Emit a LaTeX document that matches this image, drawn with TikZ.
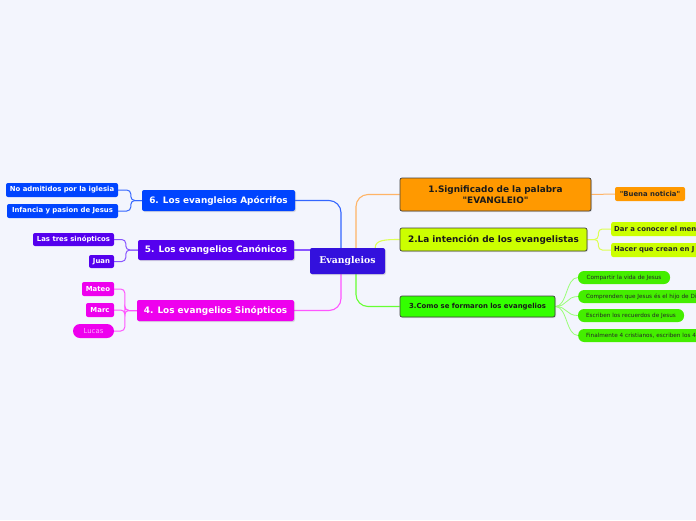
\documentclass[tikz,border=0pt]{standalone}
\usepackage{fontspec}
\usetikzlibrary{shadows}
\newfontfamily\sansf{DejaVu Sans}
\newfontfamily\seriff{DejaVu Serif}
\definecolor{bgc}{HTML}{F3F5FD}
\definecolor{cev}{HTML}{3311DD}
\definecolor{cbl}{HTML}{0044FF}
\definecolor{cvi}{HTML}{5500EE}
\definecolor{cma}{HTML}{EE00EE}
\definecolor{cor}{HTML}{FF9900}
\definecolor{cyg}{HTML}{CCFF00}
\definecolor{cgr}{HTML}{33FF00}
\definecolor{cgc}{HTML}{44EE00}
\definecolor{lbl}{HTML}{3366FF}
\definecolor{lvi}{HTML}{8855FF}
\definecolor{lma}{HTML}{FF55FF}
\definecolor{lor}{HTML}{FFB466}
\definecolor{lyg}{HTML}{DDFF55}
\definecolor{lgr}{HTML}{66FF33}
\definecolor{lgc}{HTML}{99FF77}
\pgfdeclarelayer{bgl}
\pgfdeclarelayer{lines}
\pgfsetlayers{bgl,lines,main}
\tikzset{
  box/.style={rounded corners=2pt, inner sep=0pt, align=center, text=white},
  mainbox/.style={box, font=\sansf\bfseries\fontsize{8.9}{10.5}\selectfont,
     drop shadow={opacity=0.25, shadow xshift=1pt, shadow yshift=-1pt}},
  rbox/.style={mainbox, draw=black!75, line width=0.7pt, text=black!90},
  kid/.style={box, font=\sansf\bfseries\fontsize{6.9}{8}\selectfont},
  pill/.style={box, rounded corners=6pt, font=\sansf\fontsize{5.7}{6.5}\selectfont, text=black!85, fill=cgc},
  conn/.style={line width=1.1pt, rounded corners=12pt},
  brk/.style={line width=1pt, rounded corners=4pt},
}
\begin{document}
\begin{tikzpicture}[x=1pt,y=-1pt]
\begin{pgfonlayer}{bgl}
\fill[bgc] (0,0) rectangle (696,520);
\end{pgfonlayer}
\useasboundingbox (0,0) rectangle (696,520);

% centre
\node[box, fill=cev, minimum width=75pt, minimum height=26pt, font=\seriff\bfseries\fontsize{9.3}{11}\selectfont,
  drop shadow={opacity=0.25, shadow xshift=1pt, shadow yshift=-1pt}] (ev) at (347.5,261) {Evangleios};

% right branches
\node[rbox, fill=cor, minimum width=191pt, minimum height=33pt] (n1) at (495.5,194.5) {1.Significado de la palabra\\"EVANGLEIO"};
\node[kid, fill=cor, text=black!85, minimum width=70pt, minimum height=14pt] (bn) at (650,194) {"Buena noticia"};

\node[rbox, fill=cyg, minimum width=187pt, minimum height=23pt] (n2) at (493.5,239.5) {2.La intención de los evangelistas};
\node[kid, fill=cyg, text=black!85, anchor=west, text width=122pt, align=left, inner xsep=3pt, minimum height=14pt] (c21) at (611,229) {Dar a conocer el men};
\node[kid, fill=cyg, text=black!85, anchor=west, text width=122pt, align=left, inner xsep=3pt, minimum height=14pt] (c22) at (611,250) {Hacer que crean en J};

\node[rbox, fill=cgr, minimum width=155pt, minimum height=21pt, font=\sansf\bfseries\fontsize{6.9}{8}\selectfont] (n3) at (477.5,306.5) {3.Como se formaron los evangelios};
\node[pill, minimum width=92pt, minimum height=13pt] (c31) at (624,277.5) {Compartir la vida de Jesus};
\node[pill, anchor=west, text width=124pt, align=left, inner xsep=8pt, minimum height=13pt] (c32) at (578,296.5) {Comprenden que Jesus és el hijo de Di};
\node[pill, minimum width=106pt, minimum height=13pt] (c33) at (631,315.5) {Escriben los recuerdos de Jesus};
\node[pill, anchor=west, text width=124pt, align=left, inner xsep=8pt, minimum height=13pt] (c34) at (578,335.5) {Finalmente 4 cristianos, escriben los 4};

% left branches
\node[mainbox, fill=cbl, minimum width=153pt, minimum height=21pt] (n6) at (218.5,200.5) {6. Los evangleios Apócrifos};
\node[kid, fill=cbl, minimum width=112pt, minimum height=14pt] (c61) at (62,190) {No admitidos por la iglesia};
\node[kid, fill=cbl, minimum width=111pt, minimum height=14pt] (c62) at (62.5,211) {Infancia y pasion de Jesus};

\node[mainbox, fill=cvi, minimum width=156pt, minimum height=20pt] (n5) at (216,250) {5. Los evangelios Canónicos};
\node[kid, fill=cvi, minimum width=81pt, minimum height=13pt] (c51) at (73.5,239.5) {Las tres sinópticos};
\node[kid, fill=cvi, minimum width=25pt, minimum height=13pt] (c52) at (101.5,261.5) {Juan};

\node[mainbox, fill=cma, minimum width=157pt, minimum height=21pt] (n4) at (215.5,310.5) {4. Los evangelios Sinópticos};
\node[kid, fill=cma, minimum width=32pt, minimum height=14pt] (c41) at (98,289) {Mateo};
\node[kid, fill=cma, minimum width=28pt, minimum height=14pt] (c42) at (100,310) {Marc};
\node[kid, fill=cma, rounded corners=7pt, minimum width=41pt, minimum height=14pt, text={rgb,255:red,255;green,170;blue,255}, font=\sansf\fontsize{6.9}{8}\selectfont] (c43) at (93.5,331) {Lucas};

\begin{pgfonlayer}{lines}
% centre connectors
\draw[conn, lbl] ([xshift=-6.5pt]ev.north) |- (n6.east);
\draw[conn, lor] ([xshift=8.5pt]ev.north) |- (n1.west);
\draw[conn, lma] ([xshift=-6.5pt]ev.south) |- (n4.east);
\draw[conn, lgr] ([xshift=8.5pt]ev.south) |- (n3.west);
\draw[line width=1.1pt, lvi] (n5.east) -- (n5.east -| ev.west);
\draw[line width=1.1pt, lyg] ([xshift=-10pt]ev.north east) .. controls +(0,-8) and +(-14,0) .. (n2.west);
% right children
\draw[line width=1pt, lor] (n1.east) -- (bn.west);
\draw[brk, lyg] (n2.east) -- ++(11,0) |- (c21.west);
\draw[brk, lyg] (n2.east) -- ++(11,0) |- (c22.west);
\foreach \c in {c31,c32,c33,c34}
  \draw[line width=0.8pt, lgc] (n3.east) .. controls +(12,0) and +(-12,0) .. (\c.west);
% left children
\draw[brk, lbl] (n6.west) -- ++(-11,0) |- (c61.east);
\draw[brk, lbl] (n6.west) -- ++(-11,0) |- (c62.east);
\draw[brk, lvi] (n5.west) -- ++(-12,0) |- (c51.east);
\draw[brk, lvi] (n5.west) -- ++(-12,0) |- (c52.east);
\draw[brk, lma] (n4.west) -- ++(-12,0) |- (c41.east);
\draw[brk, lma] (n4.west) -- ++(-12,0) |- (c42.east);
\draw[brk, lma] (n4.west) -- ++(-12,0) |- (c43.east);
\end{pgfonlayer}
\end{tikzpicture}
\end{document}
